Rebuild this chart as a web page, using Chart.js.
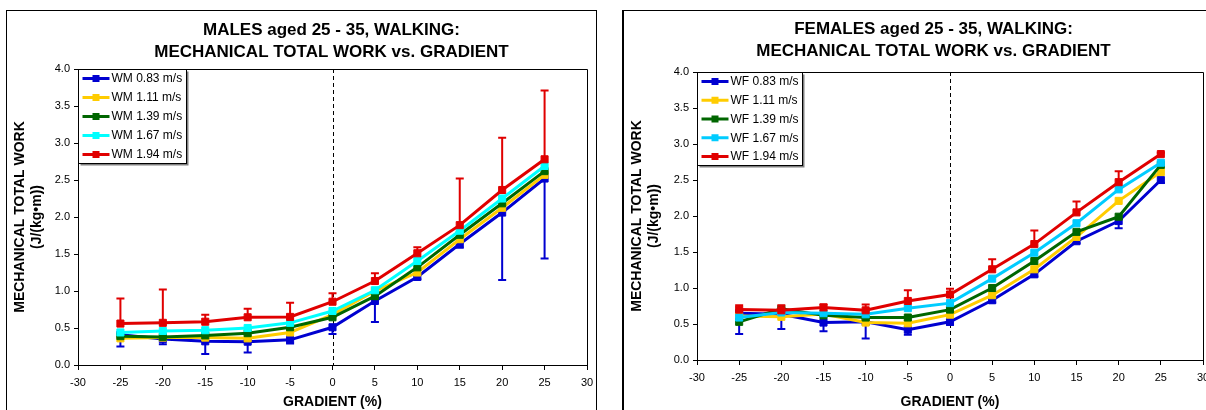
<!DOCTYPE html>
<html>
<head>
<meta charset="utf-8">
<script src="https://cdn.jsdelivr.net/npm/chart.js@4.4.1/dist/chart.umd.min.js"></script>
<style>
  html, body { margin: 0; padding: 0; background: #fff; overflow: hidden; width: 1206px; height: 410px; }
  .frame { position: absolute; border: 1px solid #000; background: #fff; }
  #frameM { left: 6px; top: 10px; }
  #frameF { left: 622px; top: 10px; border-left-width: 2px; }
  canvas { display: block; }
</style>
</head>
<body>
<div class="frame" id="frameM"><canvas id="chartM" width="589" height="419" style="width:589px;height:419px"></canvas></div>
<div class="frame" id="frameF"><canvas id="chartF" width="590" height="419" style="width:590px;height:419px"></canvas></div>
<script>
// Gradient of the treadmill (%)
const gradient = [-25, -20, -15, -10, -5, 0, 5, 10, 15, 20, 25];
const xTicks = [-30, 30];            // axis range
const yTicks = [0, 4];               // axis range

// ---------- MALES, walking (J/(kg·m)) ----------
const maleLabels = ['WM 0.83 m/s', 'WM 1.11 m/s', 'WM 1.39 m/s', 'WM 1.67 m/s', 'WM 1.94 m/s'];
const wm083 = [0.41, 0.35, 0.32, 0.315, 0.34, 0.51, 0.865, 1.19, 1.635, 2.06, 2.52];
const wm111 = [0.36, 0.37, 0.37, 0.36, 0.44, 0.68, 1.00, 1.25, 1.70, 2.125, 2.57];
const wm139 = [0.39, 0.38, 0.40, 0.43, 0.51, 0.645, 0.93, 1.32, 1.76, 2.185, 2.62];
const wm167 = [0.44, 0.46, 0.47, 0.50, 0.57, 0.73, 1.01, 1.405, 1.815, 2.25, 2.69];
const wm194 = [0.56, 0.57, 0.585, 0.645, 0.65, 0.855, 1.135, 1.51, 1.89, 2.365, 2.78];
// standard deviations: fastest speed shown above, slowest speed shown below
const wm194sd = [0.34, 0.45, 0.095, 0.115, 0.19, 0.115, 0.105, 0.08, 0.63, 0.705, 0.93];
const wm083sd = [0.16, 0.07, 0.17, 0.145, 0.05, 0.09, 0.285, 0.03, 0.05, 0.91, 1.08];

// ---------- FEMALES, walking (J/(kg·m)) ----------
const femaleLabels = ['WF 0.83 m/s', 'WF 1.11 m/s', 'WF 1.39 m/s', 'WF 1.67 m/s', 'WF 1.94 m/s'];
const wf083 = [0.65, 0.635, 0.52, 0.53, 0.42, 0.53, 0.83, 1.19, 1.65, 1.93, 2.50];
const wf111 = [0.61, 0.60, 0.64, 0.52, 0.51, 0.63, 0.90, 1.26, 1.71, 2.21, 2.61];
const wf139 = [0.53, 0.71, 0.62, 0.59, 0.59, 0.70, 1.00, 1.375, 1.78, 1.99, 2.71];
const wf167 = [0.59, 0.66, 0.65, 0.635, 0.72, 0.79, 1.13, 1.49, 1.90, 2.37, 2.74];
const wf194 = [0.70, 0.69, 0.73, 0.69, 0.82, 0.91, 1.26, 1.61, 2.05, 2.47, 2.86];
const wf194sd = [0.06, 0.07, 0.04, 0.08, 0.15, 0.08, 0.14, 0.19, 0.15, 0.15, 0.02];
const wf083sd = [0.29, 0.205, 0.12, 0.23, 0.07, 0.04, 0.03, 0.03, 0.03, 0.10, 0.04];

const FONT = "'Liberation Sans', Arial, Helvetica, sans-serif";

// Draws the zero-gradient marker, error bars, plot frame, legend box and the two-line title.
const decorations = {
  id: 'decorations',
  beforeDatasetsDraw(chart) {
    const { ctx, chartArea: a, scales: { x } } = chart;
    const px = Math.round(x.getPixelForValue(0)) + 0.5;
    ctx.save();
    ctx.strokeStyle = '#000';
    ctx.lineWidth = 1;
    ctx.setLineDash([4, 3]);
    ctx.beginPath();
    ctx.moveTo(px, a.top);
    ctx.lineTo(px, a.bottom);
    ctx.stroke();
    ctx.restore();
  },
  afterDatasetDraw(chart, args) {
    const ds = chart.data.datasets[args.index];
    if (!ds.sd) return;
    const { ctx, scales: { x, y } } = chart;
    ctx.save();
    ctx.strokeStyle = ds.borderColor;
    ctx.lineWidth = 2;
    ds.data.forEach((pt, j) => {
      const px = x.getPixelForValue(pt.x);
      const y0 = y.getPixelForValue(pt.y);
      const y1 = y.getPixelForValue(pt.y + ds.sdSign * ds.sd[j]);
      ctx.beginPath();
      ctx.moveTo(px, y0);
      ctx.lineTo(px, y1);
      ctx.moveTo(px - 4, y1);
      ctx.lineTo(px + 4, y1);
      ctx.stroke();
    });
    ctx.restore();
  },
  afterDraw(chart, args, opts) {
    const { ctx, chartArea: a } = chart;
    ctx.save();
    // plot area frame (top and right edges)
    ctx.strokeStyle = '#000';
    ctx.lineWidth = 1;
    ctx.beginPath();
    ctx.moveTo(Math.round(a.left) + 0.5, Math.round(a.top) + 0.5);
    ctx.lineTo(Math.round(a.right) + 0.5, Math.round(a.top) + 0.5);
    ctx.lineTo(Math.round(a.right) + 0.5, Math.round(a.bottom) + 0.5);
    ctx.stroke();

    // legend
    const dsets = chart.data.datasets;
    ctx.font = '12px ' + FONT;
    const textW = Math.max(...dsets.map(d => ctx.measureText(d.label).width));
    const bx = Math.round(a.left) + 0.5, by = Math.round(a.top) + 0.5;
    const bw = Math.round(33 + textW + 4), rowH = opts.rowH, bh = Math.round(rowH * dsets.length - 1);
    ctx.fillStyle = '#fff';
    ctx.fillRect(bx, by, bw, bh);
    ctx.strokeStyle = '#808080';
    ctx.lineWidth = 2;
    ctx.beginPath();
    ctx.moveTo(bx + bw + 1, by + 2);
    ctx.lineTo(bx + bw + 1, by + bh + 1);
    ctx.lineTo(bx + 2, by + bh + 1);
    ctx.stroke();
    ctx.strokeStyle = '#000';
    ctx.lineWidth = 1;
    ctx.strokeRect(bx, by, bw, bh);
    dsets.forEach((d, i) => {
      const cy = by + 9 + i * rowH;
      ctx.strokeStyle = d.borderColor;
      ctx.lineWidth = 3;
      ctx.beginPath();
      ctx.moveTo(bx + 4, cy);
      ctx.lineTo(bx + 31, cy);
      ctx.stroke();
      ctx.fillStyle = d.borderColor;
      ctx.fillRect(bx + 14, cy - 3.5, 7, 7);
      ctx.fillStyle = '#000';
      ctx.textAlign = 'left';
      ctx.textBaseline = 'middle';
      ctx.fillText(d.label, bx + 33, cy + 0.5);
    });

    // chart title
    ctx.fillStyle = '#000';
    ctx.textAlign = 'center';
    ctx.textBaseline = 'middle';
    ctx.font = 'bold 17px ' + FONT;
    opts.title.forEach((line, i) => ctx.fillText(line, opts.titleX, opts.titleY + i * 22));
    ctx.restore();
  }
};

function buildChart(id, p) {
  const series = [p.v083, p.v111, p.v139, p.v167, p.v194];
  const datasets = series.map((vals, i) => ({
    label: p.labels[i],
    data: gradient.map((g, j) => ({ x: g, y: vals[j] })),
    borderColor: p.colors[i],
    backgroundColor: p.colors[i],
    borderWidth: 3,
    pointStyle: 'rect',
    pointRadius: 5,
    pointBorderWidth: 1,
    pointHoverRadius: 5,
    tension: 0,
    order: series.length - i
  }));
  datasets[4].sd = p.sdTop; datasets[4].sdSign = 1;
  datasets[0].sd = p.sdBottom; datasets[0].sdSign = -1;

  return new Chart(document.getElementById(id), {
    type: 'line',
    data: { datasets },
    options: {
      responsive: false,
      animation: false,
      events: [],
      layout: { padding: { top: p.padTop, right: p.padRight, left: 0, bottom: 0 } },
      plugins: {
        legend: { display: false },
        title: { display: false },
        tooltip: { enabled: false },
        decorations: { title: p.title, titleX: p.titleX, titleY: p.titleY, rowH: p.rowH }
      },
      scales: {
        x: {
          type: 'linear', min: xTicks[0], max: xTicks[1],
          ticks: { stepSize: 5, color: '#000', font: { family: FONT, size: 11 }, padding: 6, maxRotation: 0, autoSkip: false },
          grid: { drawOnChartArea: false, drawTicks: true, tickLength: 5, color: '#000' },
          border: { display: true, color: '#000', width: 1 },
          title: { display: true, text: 'GRADIENT (%)', color: '#000', font: { family: FONT, size: 14, weight: 'bold' }, padding: { top: 0, bottom: p.xTitlePad } },
          afterFit: s => { s.height = p.xAxisH; s.paddingLeft = 0; s.paddingRight = 0; }
        },
        y: {
          type: 'linear', min: yTicks[0], max: yTicks[1],
          ticks: { stepSize: 0.5, color: '#000', font: { family: FONT, size: 11 }, padding: 4, callback: v => v.toFixed(1) },
          grid: { drawOnChartArea: false, drawTicks: true, tickLength: 4, color: '#000' },
          border: { display: true, color: '#000', width: 1 },
          title: { display: true, text: ['MECHANICAL TOTAL WORK', '(J/(kg\u2022m))'], color: '#000', font: { family: FONT, size: 14, weight: 'bold' }, padding: { top: 4.6, bottom: 0 } },
          afterFit: s => { s.width = p.yAxisW; s.paddingTop = 0; s.paddingBottom = 0; }
        }
      }
    },
    plugins: [decorations]
  });
}

buildChart('chartM', {
  labels: maleLabels,
  v083: wm083, v111: wm111, v139: wm139, v167: wm167, v194: wm194,
  sdTop: wm194sd, sdBottom: wm083sd,
  colors: ['#0000D0', '#FFCC00', '#006600', '#00FFFF', '#E00000'],
  title: ['MALES aged 25 - 35, WALKING:', 'MECHANICAL TOTAL WORK vs. GRADIENT'],
  titleX: 324.5, titleY: 19, rowH: 19,
  padTop: 58, padRight: 9, yAxisW: 71, xAxisH: 65, xTitlePad: 19.6
});

buildChart('chartF', {
  labels: femaleLabels,
  v083: wf083, v111: wf111, v139: wf139, v167: wf167, v194: wf194,
  sdTop: wf194sd, sdBottom: wf083sd,
  colors: ['#0000D0', '#FFCC00', '#006600', '#00CCFF', '#E00000'],
  title: ['FEMALES aged 25 - 35, WALKING:', 'MECHANICAL TOTAL WORK vs. GRADIENT'],
  titleX: 309.5, titleY: 18.7, rowH: 18.75,
  padTop: 61, padRight: 11, yAxisW: 73, xAxisH: 70, xTitlePad: 19.3
});
</script>
</body>
</html>
